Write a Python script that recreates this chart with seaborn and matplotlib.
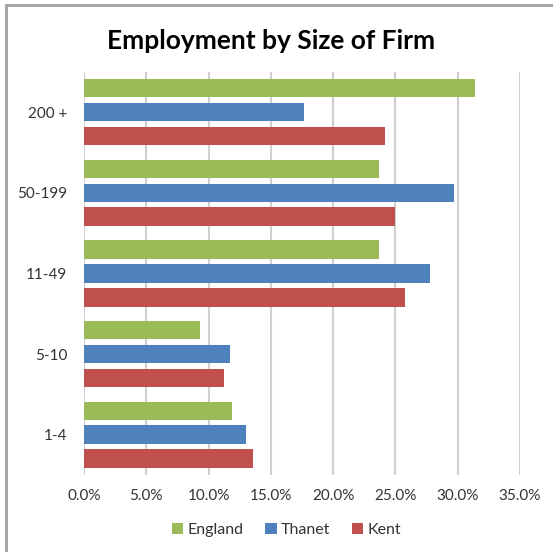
import pandas as pd
import numpy as np
import matplotlib.pyplot as plt
import seaborn as sns
from matplotlib.lines import Line2D
from matplotlib.ticker import FuncFormatter

# Data (percent of employment)
sizes = ["200 +", "50-199", "11-49", "5-10", "1-4"]
england = [31.4, 23.7, 23.7, 9.3, 11.9]
thanet = [17.7, 29.7, 27.8, 11.7, 13.0]
kent = [24.2, 25.0, 25.8, 11.2, 13.6]
areas = ["England", "Thanet", "Kent"]
colors = ["#9BBB59", "#4F81BD", "#C0504D"]

df = pd.DataFrame({"size": sizes, "England": england, "Thanet": thanet, "Kent": kent})
long_df = df.melt(id_vars="size", var_name="area", value_name="share")

sns.set_style("white")
plt.rcParams["font.family"] = ["Lato", "DejaVu Sans"]

fig = plt.figure(figsize=(5.53, 5.52), dpi=100)
ax = fig.add_axes([0.152, 0.1395, 0.788, 0.7305])

sns.barplot(
    data=long_df,
    y="size",
    x="share",
    hue="area",
    order=sizes,
    hue_order=areas,
    palette=colors,
    orient="h",
    width=0.89,
    gap=0.23,
    saturation=1,
    edgecolor="none",
    ax=ax,
)

ax.set_xlim(0, 35)
ax.set_ylim(4.5, -0.5)
ax.set_xticks(np.arange(0, 36, 5))
ax.xaxis.set_major_formatter(FuncFormatter(lambda v, p: f"{v:.1f}%"))
ax.grid(axis="x", color="#D0D0D0", linewidth=1.5)
ax.set_axisbelow(True)
for s in ax.spines.values():
    s.set_visible(False)
ax.tick_params(axis="both", length=0, labelsize=11, labelcolor="#333333")
ax.tick_params(axis="x", pad=10)
ax.tick_params(axis="y", pad=12)
ax.set_xlabel("")
ax.set_ylabel("")

ax.legend(
    loc="center",
    bbox_to_anchor=(0.518, 0.04),
    bbox_transform=fig.transFigure,
    ncol=3,
    frameon=False,
    fontsize=11.5,
    handlelength=0.7,
    handleheight=0.7,
    handletextpad=0.25,
    columnspacing=1.4,
    labelcolor="#333333",
)

fig.suptitle("Employment by Size of Firm", x=0.49, y=0.948, fontsize=19,
             fontweight="bold", color="black")

# outer chart frame (left and top edges)
fig.add_artist(Line2D([0.011, 0.011], [0, 0.991], transform=fig.transFigure, color="#A0A0A0", linewidth=2))
fig.add_artist(Line2D([0.011, 1], [0.991, 0.991], transform=fig.transFigure, color="#A0A0A0", linewidth=2))

fig.savefig("out.png", dpi=100)
